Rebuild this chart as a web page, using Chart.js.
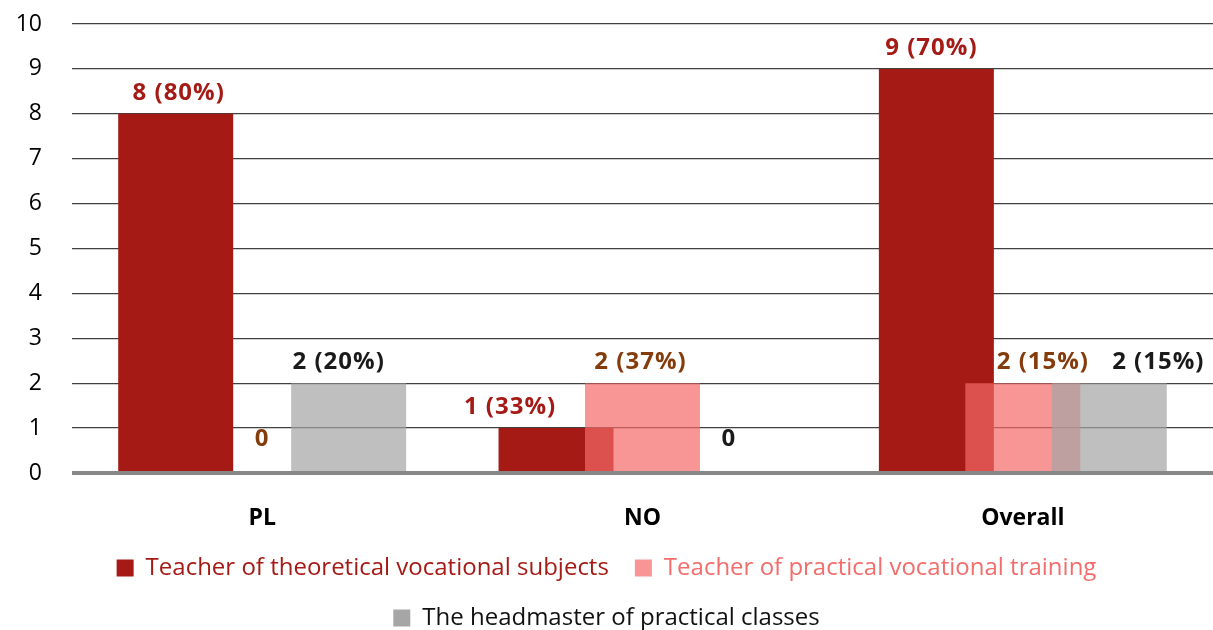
<!DOCTYPE html>
<html>
<head>
<meta charset="utf-8">
<script src="https://cdn.jsdelivr.net/npm/chart.js@4/dist/chart.umd.min.js"></script>
<style>
  html, body { margin: 0; padding: 0; background: #fff; }
  #wrap { width: 1213px; height: 630px; }
</style>
</head>
<body>
<div id="wrap"><canvas id="chart"></canvas></div>
<script>
// values
var categories = ['PL', 'NO', 'Overall'];
var seriesNames = [
    'Teacher of theoretical vocational subjects',
    'Teacher of practical vocational training',
    'The headmaster of practical classes'
];
var theoretical = [8, 1, 9];
var practical = [0, 2, 2];
var headmaster = [2, 0, 2];
var theoreticalPct = [80, 33, 70];
var practicalPct = [0, 37, 15];
var headmasterPct = [20, 0, 15];
var yTicks = [0, 1, 2, 3, 4, 5, 6, 7, 8, 9, 10];

var FONT = "'Open Sans', 'Noto Sans', sans-serif";

// bars are drawn left to right so the later ones lie over the earlier ones
var drawInOrder = {
    id: 'drawInOrder',
    beforeDatasetsDraw: function (chart) {
        for (var i = 0; i < chart.data.datasets.length; i++) {
            chart.getDatasetMeta(i).controller.draw();
        }
        return false;
    }
};

var valueLabels = {
    id: 'valueLabels',
    afterDraw: function (chart, args, opts) {
        var ctx = chart.ctx;
        var base = chart.scales.y.getPixelForValue(0);
        ctx.save();
        ctx.font = 'bold 24px ' + FONT;
        ctx.letterSpacing = '1px';
        ctx.textAlign = 'center';
        ctx.textBaseline = 'middle';
        chart.data.datasets.forEach(function (ds, i) {
            chart.getDatasetMeta(i).data.forEach(function (bar, j) {
                var v = ds.data[j];
                var text = v === 0 ? '0' : v + ' (' + ds.pct[j] + '%)';
                var y = Math.min(bar.y - 21, base - 34);
                ctx.fillStyle = opts.colors[i];
                ctx.fillText(text, bar.x + opts.shift[i][j], y);
            });
        });
        ctx.restore();
    }
};

var legendBox = ['#a51a15', '#f79694', '#a6a6a6'];
var legendText = ['#a51a15', '#f26d6b', '#111111'];

new Chart(document.getElementById('chart'), {
    type: 'bar',
    data: {
        labels: categories,
        datasets: [
            { label: seriesNames[0], data: theoretical, pct: theoreticalPct, backgroundColor: '#a51a15' },
            { label: seriesNames[1], data: practical, pct: practicalPct, backgroundColor: 'rgba(244,105,102,0.7)' },
            { label: seriesNames[2], data: headmaster, pct: headmasterPct, backgroundColor: 'rgba(164,164,164,0.7)' }
        ]
    },
    options: {
        responsive: true,
        maintainAspectRatio: false,
        animation: false,
        categoryPercentage: 0.682,
        barPercentage: 1.33,
        layout: { padding: { top: 24, left: 0, right: 0, bottom: 0 } },
        scales: {
            x: {
                grid: { display: false },
                border: { display: false },
                ticks: { color: '#000', padding: 24, font: { family: FONT, size: 23, weight: 'bold' } },
                afterFit: function (scale) { scale.height = 57; }
            },
            y: {
                min: 0,
                max: 10,
                afterBuildTicks: function (scale) {
                    scale.ticks = yTicks.map(function (v) { return { value: v }; });
                },
                grid: {
                    drawTicks: false,
                    color: function (c) { return c.tick.value === 0 ? '#878787' : '#404040'; },
                    lineWidth: function (c) { return c.tick.value === 0 ? 4 : 1.3; }
                },
                border: { display: false },
                ticks: { color: '#000', padding: 30, font: { family: FONT, size: 23 } },
                afterFit: function (scale) {
                    scale.width = 72;
                    scale.paddingTop = 0;
                    scale.paddingBottom = 0;
                }
            }
        },
        plugins: {
            tooltip: { enabled: false },
            legend: {
                position: 'bottom',
                maxHeight: 100,
                labels: {
                    boxWidth: 17,
                    boxHeight: 17,
                    padding: 26,
                    font: { family: FONT, size: 24 },
                    generateLabels: function (chart) {
                        return chart.data.datasets.map(function (ds, i) {
                            return {
                                text: ds.label,
                                fillStyle: legendBox[i],
                                strokeStyle: legendBox[i],
                                lineWidth: 0,
                                fontColor: legendText[i],
                                hidden: false,
                                datasetIndex: i
                            };
                        });
                    }
                }
            },
            valueLabels: {
                colors: ['#a51a15', '#843c0c', '#1a1a1a'],
                shift: [[3, -46, -5], [0, -2, 20], [-10, 0, 49]]
            }
        }
    },
    plugins: [drawInOrder, valueLabels]
});
</script>
</body>
</html>
